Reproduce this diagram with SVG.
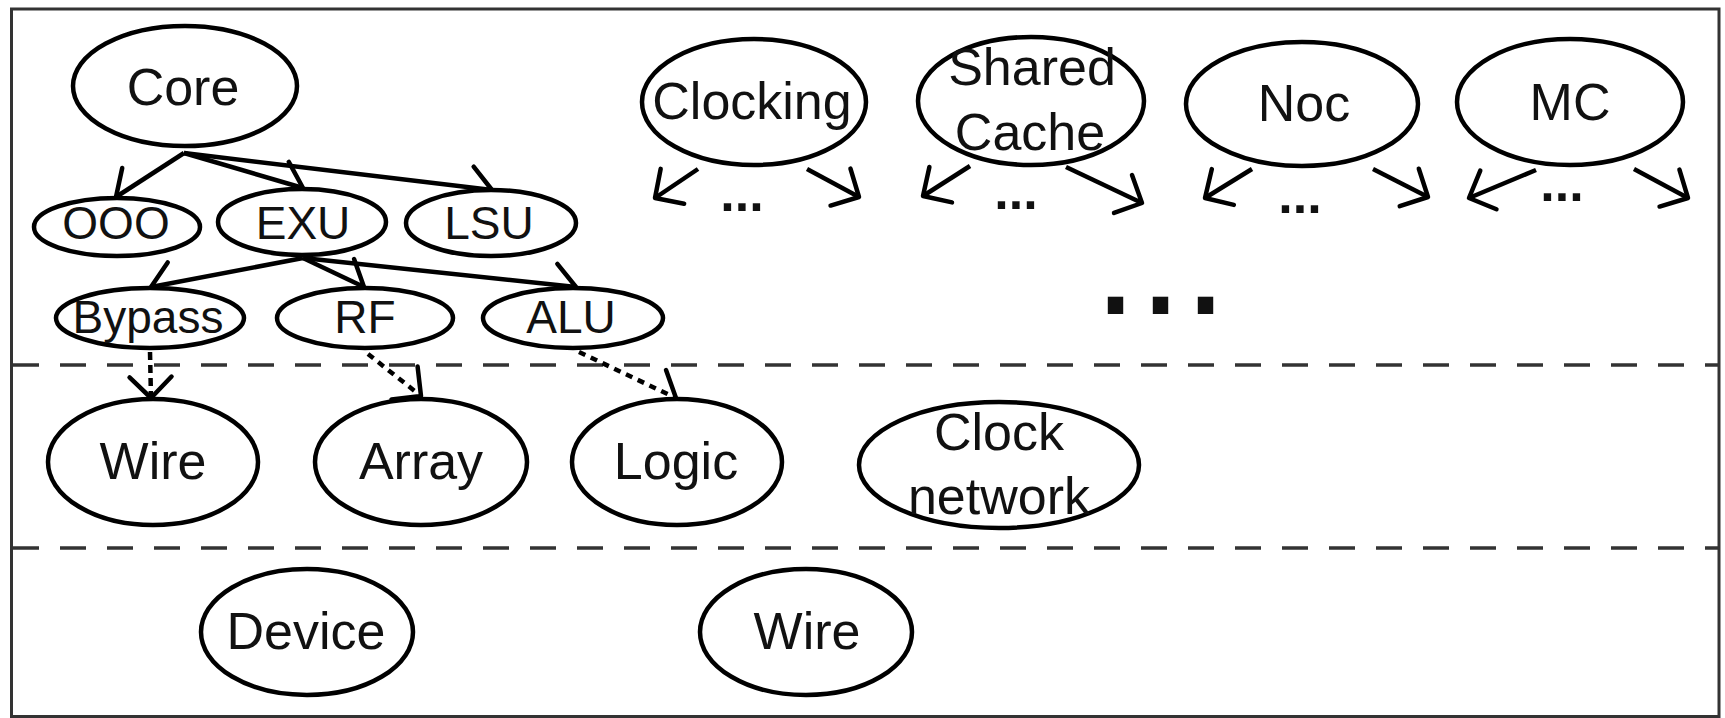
<svg xmlns="http://www.w3.org/2000/svg" width="1725" height="718" viewBox="0 0 1725 718">
<style>
.n ellipse{fill:#fff;stroke:#000;stroke-width:4.5}
.n text{font-family:"Liberation Sans",Arial,Helvetica,sans-serif;fill:#111;text-anchor:middle}
.big{font-size:52px}
.sm{font-size:46px}
.dots{font-family:"Liberation Sans",Arial,sans-serif;font-weight:bold;font-size:52px;text-anchor:middle;fill:#111}
.e{fill:none;stroke:#000;stroke-width:4.5;marker-end:url(#arr)}
.dash{stroke-dasharray:8 5}
.dot{stroke-dasharray:7 6}
.sep{stroke:#333;stroke-width:3.5;stroke-dasharray:26 21;fill:none}
</style>
<defs>
<marker id="arr" markerUnits="userSpaceOnUse" markerWidth="60" markerHeight="60" viewBox="-30 -30 60 60" refX="0" refY="0" orient="auto" overflow="visible">
<path d="M-21,-21 L0,0 L-21,21" fill="none" stroke="#000" stroke-width="4.5" stroke-linejoin="round" stroke-linecap="round"/>
</marker>
</defs>
<rect x="0" y="0" width="1725" height="718" fill="#fff"/>
<rect x="11.5" y="9" width="1707.5" height="707.5" fill="none" stroke="#333" stroke-width="3"/>
<line class="sep" x1="13" y1="365" x2="1719" y2="365"/>
<line class="sep" x1="13" y1="548" x2="1719" y2="548"/>

<g id="connectors">
<path class="e" d="M184,153 L116,197"/>
<path class="e" d="M184,153 L303,188"/>
<path class="e" d="M184,153 L492,190"/>
<path class="e" d="M303,258 L151,287"/>
<path class="e" d="M303,258 L364,287"/>
<path class="e" d="M303,258 L576,287"/>
<path class="e dash" d="M150,352 L151,398"/>
<path class="e dot" d="M368,354 L421,396"/>
<path class="e dot" d="M579,352 L676,398"/>
<path class="e" d="M698,169 L655,198"/>
<path class="e" d="M807,169 L859,197"/>
<path class="e" d="M970,166 L923,196"/>
<path class="e" d="M1066,167 L1142,203"/>
<path class="e" d="M1252,169 L1205,198"/>
<path class="e" d="M1373,169 L1428,197"/>
<path class="e" d="M1536,170 L1469,198"/>
<path class="e" d="M1634,169 L1688,198"/>
</g>

<g id="core" class="n"><ellipse cx="185" cy="86" rx="112" ry="60"/><text class="big" x="183" y="105">Core</text></g>
<g id="ooo" class="n"><ellipse cx="117" cy="227" rx="83" ry="29"/><text class="sm" x="116" y="239">OOO</text></g>
<g id="exu" class="n"><ellipse cx="302" cy="222" rx="84" ry="33"/><text class="sm" x="303" y="239">EXU</text></g>
<g id="lsu" class="n"><ellipse cx="491" cy="223" rx="85" ry="33"/><text class="sm" x="489" y="239">LSU</text></g>
<g id="bypass" class="n"><ellipse cx="150" cy="318" rx="94" ry="30"/><text class="sm" x="148" y="333">Bypass</text></g>
<g id="rf" class="n"><ellipse cx="365" cy="318" rx="88" ry="30"/><text class="sm" x="365" y="333">RF</text></g>
<g id="alu" class="n"><ellipse cx="573" cy="318" rx="90" ry="30"/><text class="sm" x="571" y="333">ALU</text></g>

<g id="clocking" class="n"><ellipse cx="754" cy="102" rx="112" ry="63"/><text class="big" x="752" y="119">Clocking</text></g>
<g id="sharedcache" class="n"><ellipse cx="1031" cy="101" rx="113" ry="64"/><text class="big" x="1032" y="85">Shared</text><text class="big" x="1030" y="150">Cache</text></g>
<g id="noc" class="n"><ellipse cx="1302" cy="104" rx="116" ry="62"/><text class="big" x="1304" y="121">Noc</text></g>
<g id="mc" class="n"><ellipse cx="1570" cy="102" rx="113" ry="63"/><text class="big" x="1570" y="120">MC</text></g>

<g id="ellipses-small">
<text class="dots" x="742" y="211">...</text>
<text class="dots" x="1016" y="209">...</text>
<text class="dots" x="1300" y="213">...</text>
<text class="dots" x="1562" y="201">...</text>
</g>
<text x="1093" y="314" font-family="Liberation Sans, Arial, sans-serif" font-size="162" fill="#111">...</text>

<g id="wire1" class="n"><ellipse cx="153" cy="462" rx="105" ry="63"/><text class="big" x="153" y="479">Wire</text></g>
<g id="array" class="n"><ellipse cx="421" cy="462" rx="106" ry="63"/><text class="big" x="421" y="479">Array</text></g>
<g id="logic" class="n"><ellipse cx="677" cy="462" rx="105" ry="63"/><text class="big" x="676" y="479">Logic</text></g>
<g id="clocknetwork" class="n"><ellipse cx="999" cy="465" rx="140" ry="63"/><text class="big" x="999" y="450">Clock</text><text class="big" x="999" y="514">network</text></g>
<g id="device" class="n"><ellipse cx="307" cy="632" rx="106" ry="63"/><text class="big" x="306" y="649">Device</text></g>
<g id="wire2" class="n"><ellipse cx="806" cy="632" rx="106" ry="63"/><text class="big" x="807" y="649">Wire</text></g>
</svg>
